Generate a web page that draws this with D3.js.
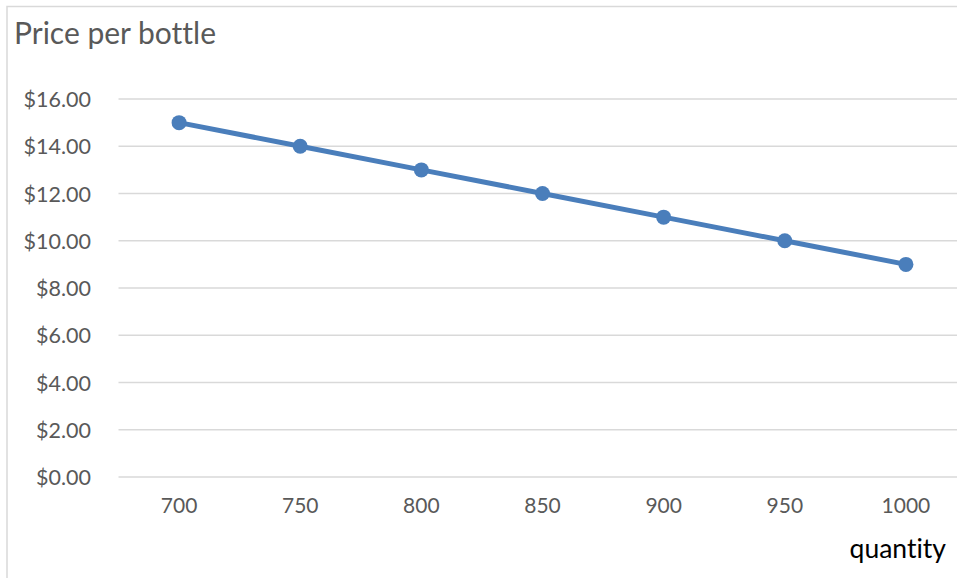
<!DOCTYPE html>
<html><head><meta charset="utf-8">
<script src="https://cdn.jsdelivr.net/npm/d3@7"></script>
<style>body{margin:0;background:#fff}svg{display:block}text{font-family:Lato,"Open Sans",sans-serif;font-variant-ligatures:none;font-feature-settings:"liga" 0}</style>
</head><body>
<script>
const quantities = ["700","750","800","850","900","950","1000"];
const prices = [15,14,13,12,11,10,9];
const yTicks = [0,2,4,6,8,10,12,14,16];
const chartTitle = "Price per bottle";
const xTitle = "quantity";

const W = 957, H = 578;
const svg = d3.select("body").append("svg").attr("width", W).attr("height", H);

svg.append("rect").attr("x",7).attr("y",6.5).attr("width",990).attr("height",700)
  .attr("fill","none").attr("stroke","#d9d9d9").attr("stroke-width",1.5);

const x = d3.scaleBand().domain(quantities).range([118.5, 966.5]);
const y = d3.scaleLinear().domain([0,16]).range([477, 99]);

svg.append("g").selectAll("line").data(yTicks).join("line")
  .attr("x1",118.5).attr("x2",966.5).attr("y1",d=>y(d)).attr("y2",d=>y(d))
  .attr("stroke","#d9d9d9").attr("stroke-width",1.5);

const yAxis = d3.axisLeft(y).tickValues(yTicks).tickSize(0).tickPadding(0)
  .tickFormat(d=>"$"+d3.format(".2f")(d));
const gy = svg.append("g").attr("transform","translate(91,0)").call(yAxis);
gy.select(".domain").remove();
gy.selectAll("text").attr("fill","#595959").style("font-size","21.5px").attr("dy","0.35em");

const xAxis = d3.axisBottom(x).tickSize(0).tickPadding(0);
const gx = svg.append("g").attr("transform","translate(0,498)").call(xAxis);
gx.select(".domain").remove();
gx.selectAll("text").attr("fill","#595959").style("font-size","21px").attr("dy","0.71em");

const line = d3.line().x((d,i)=>x(quantities[i])+x.bandwidth()/2).y(d=>y(d));
svg.append("path").datum(prices).attr("d",line).attr("fill","none")
  .attr("stroke","#4a7ebb").attr("stroke-width",5).attr("stroke-linejoin","round");
svg.append("g").selectAll("circle").data(prices).join("circle")
  .attr("cx",(d,i)=>x(quantities[i])+x.bandwidth()/2).attr("cy",d=>y(d)).attr("r",7.5)
  .attr("fill","#4a7ebb");

svg.append("text").attr("x",14).attr("y",44).text(chartTitle)
  .attr("fill","#595959").style("font-size","30px");
svg.append("text").attr("x",946).attr("y",558).attr("text-anchor","end").text(xTitle)
  .attr("fill","#000").style("font-size","26.5px");
</script>
</body></html>
